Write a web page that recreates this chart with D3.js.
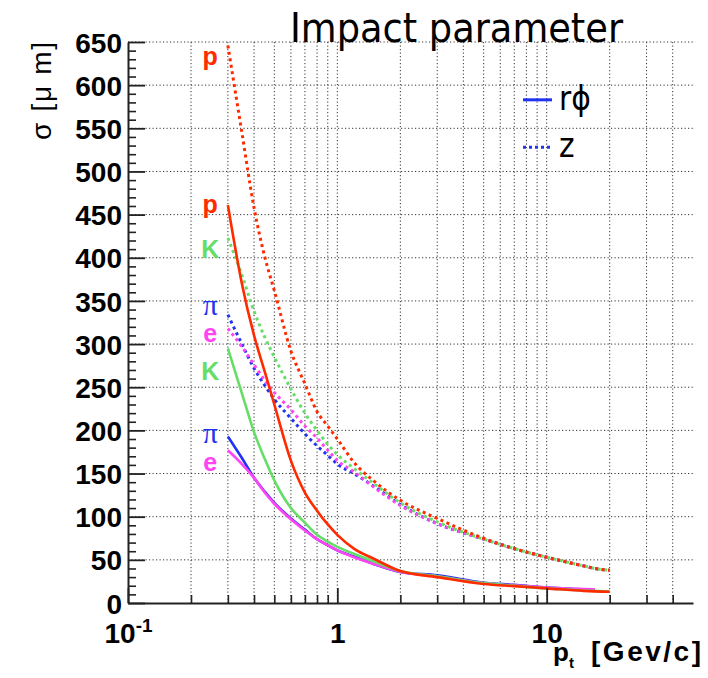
<!DOCTYPE html>
<html>
<head>
<meta charset="utf-8">
<script src="https://cdn.jsdelivr.net/npm/d3@7"></script>
<style>
  body { margin: 0; background: #fff; }
  svg { display: block; }
</style>
</head>
<body>
<div id="chart"></div>
<script>
const WIDTH = 708;
const HEIGHT = 678;
const margin = { top: 42, right: 15, bottom: 75, left: 128 };
const innerW = WIDTH - margin.left - margin.right;
const innerH = HEIGHT - margin.top - margin.bottom;

// transverse momentum grid (GeV/c)
const ptValues = [0.3, 0.35, 0.4, 0.45, 0.5, 0.6, 0.7, 0.8, 0.9, 1, 1.2, 1.5, 2, 3, 5, 7, 10, 15, 17, 20];

// impact parameter resolution, r-phi (solid), in microns
const rphiProton = [461, 370, 310, 268, 230, 165, 128, 107, 91, 79, 63, 51, 37, 30, 22, 19.5, 17, 14, 13.5, 13];
const rphiKaon   = [295, 243, 198, 167, 142, 110, 93, 79, 71, 65, 57, 48, 37, 31, 23, 20, 17, 14.5, 14, 13];
const rphiPion   = [193, 168, 145, 129, 116, 98, 85, 74, 67, 61, 54, 45, 36, 32, 23.5, 21, 18, 16, 15.8, null];
const rphiElec   = [177, 161, 145, 128, 115, 97, 84, 74, 67, 61, 53, 45, 36, 31, 23, 20.5, 18, 16.2, 16, null];

// impact parameter resolution, z (dotted), in microns
const zProton = [646, 545, 458, 401, 362, 292, 254, 222, 205, 190, 163, 141, 119, 98, 75, 63, 53, 43, 40, 38];
const zKaon   = [423, 380, 338, 308, 285, 248, 220, 200, 184, 172, 156, 138, 116, 94, 74, 63, 53, 43, 40, 38];
const zPion   = [334, 300, 272, 252, 236, 214, 196, 182, 171, 161, 150, 135, 114, 92, 74, 63, 53, 43, 40, 38];
const zElec   = [318, 297, 276, 258, 244, 224, 205, 191, 177, 165, 152, 134, 113, 92, 74, 63, 53, 43, 40, 37.5];

const particleColors = { p: '#ff2a00', K: '#66dd66', pi: '#1f33f0', e: '#ff44f4' };

// particle tags next to the curve starts: [text, particle, sigma]
const tagValues = [
  ['p', 'p', 623],
  ['p', 'p', 452],
  ['K', 'K', 400],
  ['π', 'pi', 334],
  ['e', 'e', 302],
  ['K', 'K', 258],
  ['π', 'pi', 185],
  ['e', 'e', 153],
];
const tagPt = 0.247;

const yMajorTicks = d3.range(0, 651, 50);
const yMinorTicks = d3.range(0, 651, 10).filter(d => d % 50 !== 0);
const xMajorTicks = [0.1, 1, 10];
const xMinorTicks = [0.2, 0.3, 0.4, 0.5, 0.6, 0.7, 0.8, 0.9, 2, 3, 4, 5, 6, 7, 8, 9, 20, 30, 40];

const svg = d3.select('#chart')
  .append('svg')
  .attr('width', WIDTH)
  .attr('height', HEIGHT);

const g = svg.append('g').attr('transform', `translate(${margin.left},${margin.top})`);

const x = d3.scaleLog().domain([0.1, 50]).range([0, innerW]);
const y = d3.scaleLinear().domain([0, 650]).range([innerH, 0]);

// grid
g.append('g')
  .selectAll('line.hgrid')
  .data(yMajorTicks.filter(d => d > 0))
  .join('line')
  .attr('x1', 0)
  .attr('x2', innerW)
  .attr('y1', d => y(d))
  .attr('y2', d => y(d))
  .attr('stroke', '#333')
  .attr('stroke-width', 1)
  .attr('stroke-dasharray', '1.2,2.3');

g.append('g')
  .selectAll('line.vgrid')
  .data(xMinorTicks.concat([1, 10]))
  .join('line')
  .attr('x1', d => x(d))
  .attr('x2', d => x(d))
  .attr('y1', 0)
  .attr('y2', innerH)
  .attr('stroke', '#333')
  .attr('stroke-width', 1)
  .attr('stroke-dasharray', '1.2,2.3');

// curves
const line = d3.line()
  .defined(d => d[1] != null)
  .x(d => x(d[0]))
  .y(d => y(d[1]))
  .curve(d3.curveMonotoneX);

const zSeries = [
  { values: zPion, color: particleColors.pi },
  { values: zElec, color: particleColors.e },
  { values: zKaon, color: particleColors.K },
  { values: zProton, color: particleColors.p },
];
const rphiSeries = [
  { values: rphiPion, color: particleColors.pi },
  { values: rphiElec, color: particleColors.e },
  { values: rphiKaon, color: particleColors.K },
  { values: rphiProton, color: particleColors.p },
];

g.append('g')
  .selectAll('path')
  .data(zSeries)
  .join('path')
  .attr('d', s => line(ptValues.map((p, i) => [p, s.values[i]])))
  .attr('fill', 'none')
  .attr('stroke', s => s.color)
  .attr('stroke-width', 3)
  .attr('stroke-dasharray', '3,3.5');

g.append('g')
  .selectAll('path')
  .data(rphiSeries)
  .join('path')
  .attr('d', s => line(ptValues.map((p, i) => [p, s.values[i]])))
  .attr('fill', 'none')
  .attr('stroke', s => s.color)
  .attr('stroke-width', 2.6);

// particle tags
g.append('g')
  .selectAll('text')
  .data(tagValues)
  .join('text')
  .attr('x', x(tagPt))
  .attr('y', d => y(d[2]))
  .attr('text-anchor', 'middle')
  .attr('fill', d => particleColors[d[1]])
  .attr('font-family', d => d[1] === 'pi' ? "'Liberation Serif', serif" : "'Liberation Sans', Arial, sans-serif")
  .attr('font-weight', d => d[1] === 'pi' ? 'normal' : 'bold')
  .attr('font-size', d => d[1] === 'pi' ? 30 : 25)
  .text(d => d[0]);

// y axis
const yMinor = g.append('g')
  .call(d3.axisLeft(y).tickValues(yMinorTicks).tickSize(-8).tickFormat(''));
yMinor.select('.domain').remove();
yMinor.selectAll('line').attr('stroke', '#222').attr('stroke-width', 1.6);

const yAxis = g.append('g')
  .call(d3.axisLeft(y).tickValues(yMajorTicks).tickSize(-17).tickSizeOuter(0).tickPadding(6));
yAxis.select('.domain').attr('stroke', '#222').attr('stroke-width', 2);
yAxis.selectAll('line').attr('stroke', '#222').attr('stroke-width', 1.8);
yAxis.selectAll('text')
  .attr('font-family', "'Liberation Sans', Arial, sans-serif")
  .attr('font-weight', 'bold')
  .attr('font-size', 28)
  .attr('fill', '#000')
  .attr('dy', '0.36em');

// x axis
const xMinor = g.append('g')
  .attr('transform', `translate(0,${innerH})`)
  .call(d3.axisBottom(x).tickValues(xMinorTicks).tickSize(-8).tickFormat(''));
xMinor.select('.domain').remove();
xMinor.selectAll('line').attr('stroke', '#222').attr('stroke-width', 1.6);

const xAxis = g.append('g')
  .attr('transform', `translate(0,${innerH})`)
  .call(d3.axisBottom(x).tickValues(xMajorTicks).tickSize(-15).tickSizeOuter(0).tickPadding(20)
    .tickFormat(d => d === 0.1 ? '10' : String(d)));
xAxis.select('.domain').attr('stroke', '#222').attr('stroke-width', 2);
xAxis.selectAll('line').attr('stroke', '#222').attr('stroke-width', 1.8);
xAxis.selectAll('text')
  .attr('font-family', "'Liberation Sans', Arial, sans-serif")
  .attr('font-weight', 'bold')
  .attr('font-size', 28)
  .attr('fill', '#000')
  .each(function (d) {
    if (d === 0.1) {
      d3.select(this)
        .append('tspan')
        .attr('font-size', 19)
        .attr('dy', '-0.55em')
        .text('-1');
    }
  });

// axis titles
svg.append('text')
  .attr('transform', 'translate(51,91) rotate(-90)')
  .attr('text-anchor', 'middle')
  .attr('font-family', "'Liberation Sans', Arial, sans-serif")
  .attr('font-size', 28)
  .attr('textLength', 98)
  .text('σ [μ m]');

const xTitle = svg.append('text')
  .attr('x', 553)
  .attr('y', 661)
  .attr('font-family', "'Liberation Sans', Arial, sans-serif")
  .attr('font-weight', 'bold')
  .attr('font-size', 26);
xTitle.append('tspan').text('p');
xTitle.append('tspan').attr('font-size', 15).attr('dy', 7).text('t');

svg.append('text')
  .attr('x', 591)
  .attr('y', 661)
  .attr('font-family', "'Liberation Sans', Arial, sans-serif")
  .attr('font-weight', 'bold')
  .attr('font-size', 28)
  .attr('textLength', 110)
  .text('[Gev/c]');

// title
svg.append('text')
  .attr('x', 290)
  .attr('y', 42)
  .attr('font-family', "'DejaVu Sans Condensed', 'DejaVu Sans', sans-serif")
  .attr('font-stretch', 'condensed')
  .attr('font-size', 40)
  .attr('textLength', 333)
  .attr('lengthAdjust', 'spacingAndGlyphs')
  .attr('fill', '#000')
  .text('Impact parameter');

// legend
const legendItems = [
  { label: 'rϕ', dash: null, sigma: 583 },
  { label: 'z', dash: '3,3', sigma: 528 },
];
const legend = g.append('g');
legendItems.forEach(item => {
  const ly = y(item.sigma);
  legend.append('line')
    .attr('x1', 395)
    .attr('x2', 424)
    .attr('y1', ly)
    .attr('y2', ly)
    .attr('stroke', particleColors.pi)
    .attr('stroke-width', 3)
    .attr('stroke-dasharray', item.dash);
  legend.append('text')
    .attr('x', 431)
    .attr('y', ly + 10)
    .attr('font-family', "'DejaVu Sans Condensed', 'DejaVu Sans', sans-serif")
    .attr('font-stretch', 'condensed')
    .attr('font-size', 33)
    .attr('fill', '#000')
    .text(item.label);
});
</script>
</body>
</html>
